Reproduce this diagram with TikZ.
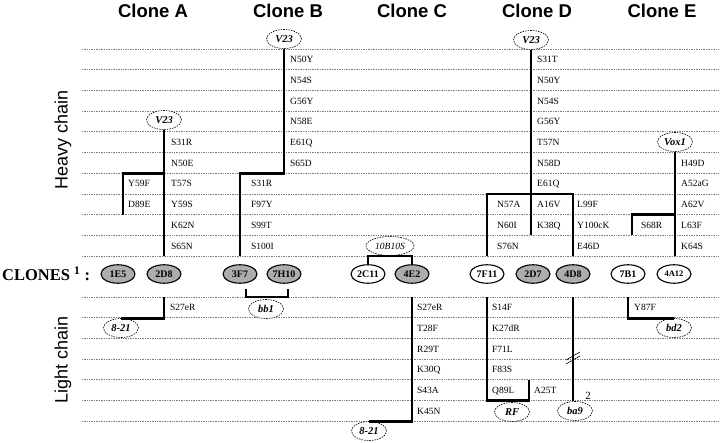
\documentclass[tikz,border=0pt]{standalone}
\usepackage{fontspec}
\setmainfont{Liberation Serif}
\newfontfamily\headfont{Liberation Sans}
\usetikzlibrary{shapes.geometric}

\begin{document}
\begin{tikzpicture}[x=1pt, y=-1pt,
    grid/.style={black!50, line width=0.6pt, dash pattern=on 0.8pt off 0.9pt},
    chain/.style={line width=2.7pt},
    clone/.style={ellipse, draw, line width=1.1pt, fill=white, minimum width=34pt,
                  minimum height=18.5pt, inner sep=0pt, font=\bfseries\fontsize{10}{10}\selectfont},
    picked/.style={clone, fill=black!32},
    germ/.style={ellipse, draw, fill=white, line width=0.6pt, dash pattern=on 1.6pt off 1pt,
                 minimum width=35pt, minimum height=19pt, inner sep=0pt,
                 font=\bfseries\itshape\fontsize{10.5}{10.5}\selectfont},
    mut/.style={anchor=west, inner sep=0pt, text height=6.8pt, text depth=0pt,
                font=\fontsize{9.5}{9.5}\selectfont},
    title/.style={font=\headfont\bfseries\fontsize{18.5}{20}\selectfont},
    side/.style={rotate=90, font=\headfont\fontsize{18}{20}\selectfont}
  ]
  \useasboundingbox (0,0) rectangle (720,443);

  % dotted guide lines
  \foreach \k in {0,...,10}
    \draw[grid] (82,{49+20.7*\k}) -- (720,{49+20.7*\k});
  \foreach \k in {0,...,6}
    \draw[grid] (82,{297+20.7*\k}) -- (720,{297+20.7*\k});

  \coordinate (hb) at (0,256);
  \coordinate (lt) at (0,297);
  \coordinate (lf) at (0,400.5);

  % titles
  \node[title] (tA) at (153,11) {Clone A};
  \node[title] (tB) at (288,11) {Clone B};
  \node[title] (tC) at (412,11) {Clone C};
  \node[title] (tD) at (537,11) {Clone D};
  \node[title] (tE) at (662,11) {Clone E};
  \node[side] (heavy) at (63,140) {Heavy chain};
  \node[side] (light) at (63,360) {Light chain};
  \node[anchor=west, inner sep=0pt, font=\bfseries\fontsize{16.5}{17}\selectfont] (lbl) at (2,274)
    {CLONES\ \textsuperscript{1}\ :};

  % clones
  \node[picked] (c1E5) at (118,274) {1E5};
  \node[picked] (c2D8) at (164,274) {2D8};
  \node[picked] (c3F7) at (240,274) {3F7};
  \node[picked] (c7H10) at (284,274) {7H10};
  \node[clone] (c2C11) at (368,274) {2C11};
  \node[picked] (c4E2) at (412,274) {4E2};
  \node[clone] (c7F11) at (487,274) {7F11};
  \node[picked] (c2D7) at (533,274) {2D7};
  \node[picked] (c4D8) at (573,274) {4D8};
  \node[clone] (c7B1) at (628,274) {7B1};
  \node[clone, font=\bfseries\fontsize{8.5}{8.5}\selectfont] (c4A12) at (674,274) {4A12};

  % germline genes
  \node[germ] (vA) at (164,120) {V23};
  \node[germ] (vB) at (284,39) {V23};
  \node[germ] (vD) at (531,40) {V23};
  \node[germ] (vE) at (675,142) {Vox1};
  \node[germ, minimum width=48pt, font=\itshape\fontsize{9.5}{9.5}\selectfont] (gC) at (390,246) {10B10S};
  \node[germ] (kA) at (121,328) {8-21};
  \node[germ] (kB) at (266,309) {bb1};
  \node[germ] (kC) at (369,431) {8-21};
  \node[germ] (kD1) at (512,412) {RF};
  \node[germ] (kD2) at (575,411) {ba9};
  \node[germ] (kE) at (674,328) {bd2};

  % clone A
  \coordinate (aJ) at (164,173.2);
  \coordinate (aK) at (123,214.6);
  \draw[chain] (vA) -- (vA |- hb);
  \draw[chain] (aJ) -| (aK);
  \draw[chain] (c2D8 |- lt) |- (kA.north);
  \foreach \m [count=\i from 4] in {S31R,N50E,T57S,Y59S,K62N,S65N}
    \node[mut] (aM\i) at (171,{59.35+20.7*\i}) {\m};
  \foreach \m [count=\i from 6] in {Y59F,D89E}
    \node[mut] (aB\i) at (128,{59.35+20.7*\i}) {\m};
  \node[mut] (aL0) at (170,307.35) {S27eR};

  % clone B
  \coordinate (bJ) at (284,173.2);
  \coordinate (bL0) at (246,289);
  \coordinate (bL) at (246,297);
  \coordinate (bR) at (288,297);
  \coordinate (bR0) at (288,289);
  \draw[chain] (vB) -- (bJ) -| (c3F7 |- hb);
  \draw[chain] (bL0) -- (bL) -- (bR) -- (bR0);
  \foreach \m [count=\i from 0] in {N50Y,N54S,G56Y,N58E,E61Q,S65D}
    \node[mut] (bM\i) at (290,{59.35+20.7*\i}) {\m};
  \foreach \m [count=\i from 6] in {S31R,F97Y,S99T,S100I}
    \node[mut] (bB\i) at (251,{59.35+20.7*\i}) {\m};

  % clone C
  \draw[chain] (c2C11.north) -- (c2C11.north |- hb) -- (c4E2.north |- hb) -- (c4E2.north);
  \draw[chain] (c4E2 |- lt) |- (kC.north);
  \foreach \m [count=\i from 0] in {S27eR,T28F,R29T,K30Q,S43A,K45N}
    \node[mut] (cL\i) at (417,{307.35+20.7*\i}) {\m};

  % clone D
  \coordinate (dJ) at (531,193.9);
  \coordinate (dM) at (531,235.3);
  \coordinate (dQ) at (529,379.8);
  \coordinate (brk) at (573,357);
  \draw[chain] (vD) -- (dM);
  \draw[chain] (c7F11 |- hb) |- (dJ) -| (c4D8 |- hb);
  \draw[chain] (c7F11 |- lt) -- (c7F11 |- lf) -| (dQ);
  \draw[chain] (c4D8 |- lt) -- (c4D8 |- lf);
  \draw[semithick, shift={(brk)}] (-7,3) -- (7,-5) (-7,7) -- (7,-1);
  \node[font=\fontsize{11}{11}\selectfont] (sup2) at (588,396) {2};
  \foreach \m [count=\i from 0] in {S31T,N50Y,N54S,G56Y,T57N,N58D,E61Q}
    \node[mut] (dM\i) at (537,{59.35+20.7*\i}) {\m};
  \foreach \m [count=\i from 7] in {N57A,N60I,S76N}
    \node[mut] (dA\i) at (497,{59.35+20.7*\i}) {\m};
  \foreach \m [count=\i from 7] in {A16V,K38Q}
    \node[mut] (dB\i) at (537,{59.35+20.7*\i}) {\m};
  \foreach \m [count=\i from 7] in {L99F,Y100cK,E46D}
    \node[mut] (dC\i) at (577,{59.35+20.7*\i}) {\m};
  \foreach \m [count=\i from 0] in {S14F,K27dR,F71L,F83S,Q89L}
    \node[mut] (dL\i) at (492,{307.35+20.7*\i}) {\m};
  \node[mut] (dR4) at (534,390.15) {A25T};

  % clone E
  \coordinate (eJ) at (675,214.6);
  \coordinate (eK) at (632,235.3);
  \draw[chain] (vE) -- (vE |- hb);
  \draw[chain] (eJ) -| (eK);
  \draw[chain] (c7B1 |- lt) |- (kE.north);
  \foreach \m [count=\i from 5] in {H49D,A52aG,A62V,L63F,K64S}
    \node[mut] (eM\i) at (681,{59.35+20.7*\i}) {\m};
  \node[mut] (eB8) at (641,224.95) {S68R};
  \node[mut] (eL0) at (634,307.35) {Y87F};
\end{tikzpicture}
\end{document}
